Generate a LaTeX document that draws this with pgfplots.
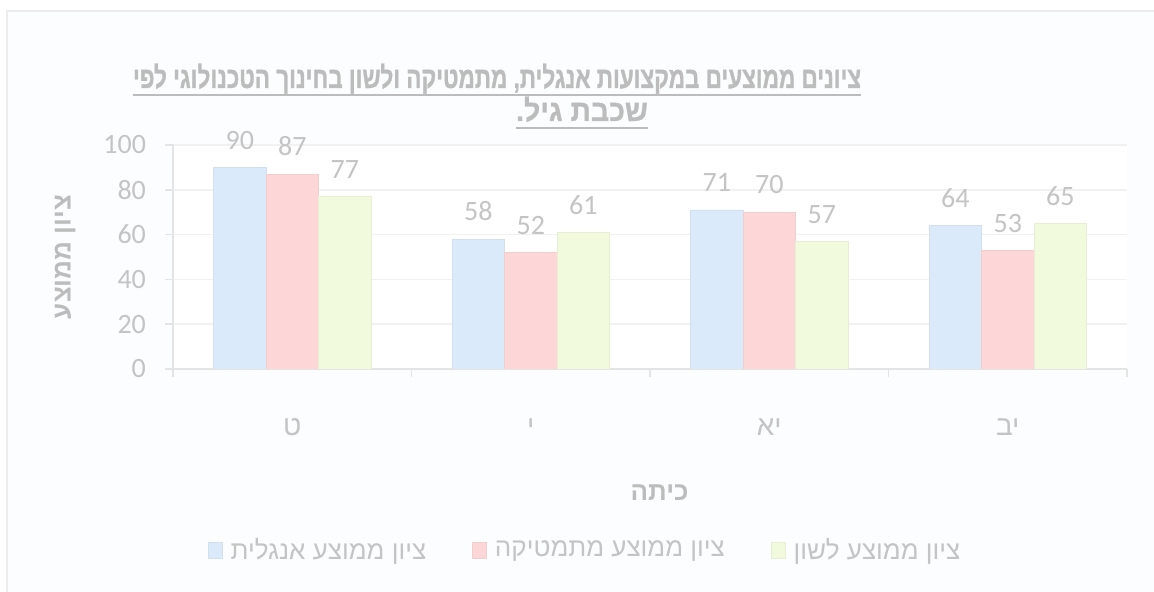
\documentclass[border=0pt]{standalone}
\usepackage{pgfplots}
\pgfplotsset{compat=1.18}
\usepackage{fontspec}
\setmainfont{Carlito}
\newfontfamily\heb[Script=Hebrew]{Liberation Sans}
\newfontfamily\hebt[Script=Hebrew, FakeStretch=0.75, BoldFeatures={FakeBold=1}]{Liberation Sans}
\newfontfamily\hebu[Script=Hebrew, FakeStretch=0.95, BoldFeatures={FakeBold=1}]{Liberation Sans}
\TeXXeTstate=1
\definecolor{txt}{RGB}{196,196,196}
\definecolor{ttl}{RGB}{188,188,188}
\definecolor{cblue}{RGB}{219,234,250}
\definecolor{cred}{RGB}{253,215,215}
\definecolor{cyel}{RGB}{242,250,221}
\definecolor{gridc}{RGB}{241,241,241}
\definecolor{axisc}{RGB}{228,228,228}
\definecolor{framec}{RGB}{236,236,236}
\definecolor{bgc}{RGB}{251,253,254}
\newcommand{\R}[1]{{\heb\beginR #1\endR}}

\begin{document}
\begin{tikzpicture}[x=0.5pt,y=0.5pt]
\path[use as bounding box] (0,0) rectangle (1154,592);
\fill[bgc] (7,0) rectangle (1154,581);
\draw[framec, line width=1pt] (7,0) -- (7,581) -- (1154,581);

\begin{axis}[
    at={(86.5pt,111.5pt)}, anchor=south west,
    scale only axis,
    width=477pt, height=112pt,
    xmin=-0.5, xmax=3.5, ymin=0, ymax=100,
    ybar=0pt, bar width=26.25pt,
    axis background/.style={fill=white},
    axis x line*=bottom, axis y line*=left,
    axis line style={draw=axisc, line width=0.8pt, -},
    /pgf/number format/assume math mode=true,
    ytick={0,20,...,100},
    ymajorgrids, grid style={draw=gridc, line width=0.8pt},
    tick align=outside,
    major tick length=4pt,
    ytick style={draw=axisc, line width=0.8pt},
    yticklabel style={font=\fontsize{14}{16}\selectfont, text=txt, xshift=-6pt},
    xtick={-0.5,0.5,1.5,2.5,3.5},
    xticklabels={},
    xtick style={draw=axisc, line width=0.8pt},
    extra x ticks={0,1,2,3},
    extra x tick labels={\R{ט},\R{י},\R{יא},\R{יב}},
    extra x tick style={major tick length=0pt, grid=none,
        xticklabel style={font=\fontsize{14}{16}\selectfont, text=txt, anchor=center, yshift=-29pt}},
    xlabel={\R{כיתה}},
    xlabel style={at={(axis description cs:0.51,-0.55)}, anchor=center,
        font=\fontsize{13}{15}\selectfont\bfseries, text=ttl},
    ylabel={\R{ציון ממוצע}},
    ylabel style={at={(axis description cs:-0.113,0.5)}, anchor=center, rotate=0,
        font=\fontsize{13}{15}\selectfont\bfseries, text=ttl},
    nodes near coords,
    every node near coord/.append style={font=\fontsize{14}{16}\selectfont, text=txt, yshift=5.5pt},
    legend columns=3,
    legend style={at={(axis description cs:0.433,-0.81)}, anchor=center,
        draw=none, fill=none, font=\fontsize{13}{15}\selectfont, text=txt,
        /tikz/every odd column/.append style={column sep=2pt},
        /tikz/every even column/.append style={column sep=21pt}},
    legend image code/.code={\fill[#1] (0pt,-3.8pt) rectangle (7pt,3.8pt);},
]
\addplot[fill=cblue, draw=cblue!90!gray] coordinates {(0,90) (1,58) (2,71) (3,64)};
\addplot[fill=cred, draw=cred!90!gray] coordinates {(0,87) (1,52) (2,70) (3,53)};
\addplot[fill=cyel, draw=cyel!90!gray] coordinates {(0,77) (1,61) (2,57) (3,65)};
\legend{\R{ציון ממוצע אנגלית},\R{ציון ממוצע מתמטיקה},\R{ציון ממוצע לשון}}
\end{axis}

\node[inner sep=0pt, anchor=base, text=ttl, font=\fontsize{15}{17}\selectfont\bfseries] (t1) at (497,504) {\hebt\beginR ציונים ממוצעים במקצועות אנגלית, מתמטיקה ולשון בחינוך הטכנולוגי לפי\endR};
\node[inner sep=0pt, anchor=base, text=ttl, font=\fontsize{15}{17}\selectfont\bfseries] (t2) at (582,471) {\hebu\beginR שכבת גיל.\endR};
\draw[ttl, line width=1pt] ([yshift=-3.5pt]t1.base west) -- ([yshift=-3.5pt]t1.base east);
\draw[ttl, line width=1pt] ([yshift=-3.5pt]t2.base west) -- ([yshift=-3.5pt]t2.base east);
\end{tikzpicture}
\end{document}
